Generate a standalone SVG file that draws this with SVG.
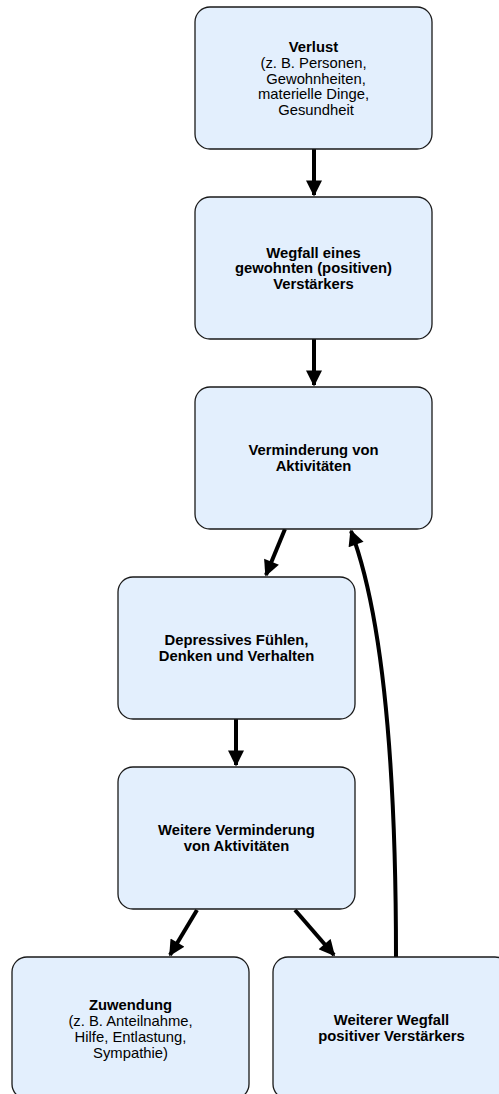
<svg xmlns="http://www.w3.org/2000/svg" width="499" height="1094" viewBox="0 0 499 1094">
<style>
.box{fill:#e3effd;stroke:#1a1a1a;stroke-width:1.3}
text{font-family:"Liberation Sans",Arial,sans-serif;font-size:14.8px;text-anchor:middle;fill:#000}
.b{font-weight:bold}
.edge{stroke:#000;stroke-width:4;fill:none}
</style>
<defs>
<marker id="ah" viewBox="0 0 10 10" refX="9" refY="5" markerWidth="4.5" markerHeight="4" markerUnits="strokeWidth" orient="auto">
<path d="M0,0 L10,5 L0,10 Z" fill="#000"/>
</marker>
</defs>
<rect width="499" height="1094" fill="#fff"/>
<g id="connectors">
<line class="edge" x1="314" y1="149" x2="314" y2="195" marker-end="url(#ah)"/>
<line class="edge" x1="314" y1="339" x2="314" y2="385" marker-end="url(#ah)"/>
<line class="edge" x1="285" y1="529" x2="266" y2="575" marker-end="url(#ah)"/>
<line class="edge" x1="236" y1="719" x2="236" y2="765" marker-end="url(#ah)"/>
<line class="edge" x1="197" y1="910" x2="170" y2="955" marker-end="url(#ah)"/>
<line class="edge" x1="295" y1="910" x2="334" y2="955" marker-end="url(#ah)"/>
<path class="edge" d="M396,957 Q396,650 351,531" marker-end="url(#ah)"/>
</g>
<g id="n1">
<rect class="box" x="195" y="7" width="237" height="142" rx="15"/>
<text class="b" x="313.5" y="52">Verlust</text>
<text x="313.5" y="68">(z. B. Personen,</text>
<text x="316" y="84">Gewohnheiten,</text>
<text x="313.5" y="99">materielle Dinge,</text>
<text x="316" y="115">Gesundheit</text>
</g>
<g id="n2">
<rect class="box" x="195" y="197" width="237" height="142" rx="15"/>
<text class="b" x="313.5" y="258">Wegfall eines</text>
<text class="b" x="313.5" y="273">gewohnten (positiven)</text>
<text class="b" x="313.5" y="289">Verstärkers</text>
</g>
<g id="n3">
<rect class="box" x="195" y="387" width="237" height="142" rx="15"/>
<text class="b" x="313.5" y="455">Verminderung von</text>
<text class="b" x="313.5" y="471">Aktivitäten</text>
</g>
<g id="n4">
<rect class="box" x="118" y="577" width="237" height="142" rx="15"/>
<text class="b" x="236.5" y="645">Depressives Fühlen,</text>
<text class="b" x="236.5" y="661">Denken und Verhalten</text>
</g>
<g id="n5">
<rect class="box" x="118" y="767" width="237" height="142" rx="15"/>
<text class="b" x="236.5" y="835">Weitere Verminderung</text>
<text class="b" x="236.5" y="851">von Aktivitäten</text>
</g>
<g id="n6">
<rect class="box" x="12" y="957" width="237" height="142" rx="15"/>
<text class="b" x="130.5" y="1010">Zuwendung</text>
<text x="130.5" y="1026">(z. B. Anteilnahme,</text>
<text x="130.5" y="1042">Hilfe, Entlastung,</text>
<text x="130.5" y="1058">Sympathie)</text>
</g>
<g id="n7">
<rect class="box" x="273" y="957" width="237" height="142" rx="15"/>
<text class="b" x="391.5" y="1025">Weiterer Wegfall</text>
<text class="b" x="391.5" y="1041">positiver Verstärkers</text>
</g>
</svg>
